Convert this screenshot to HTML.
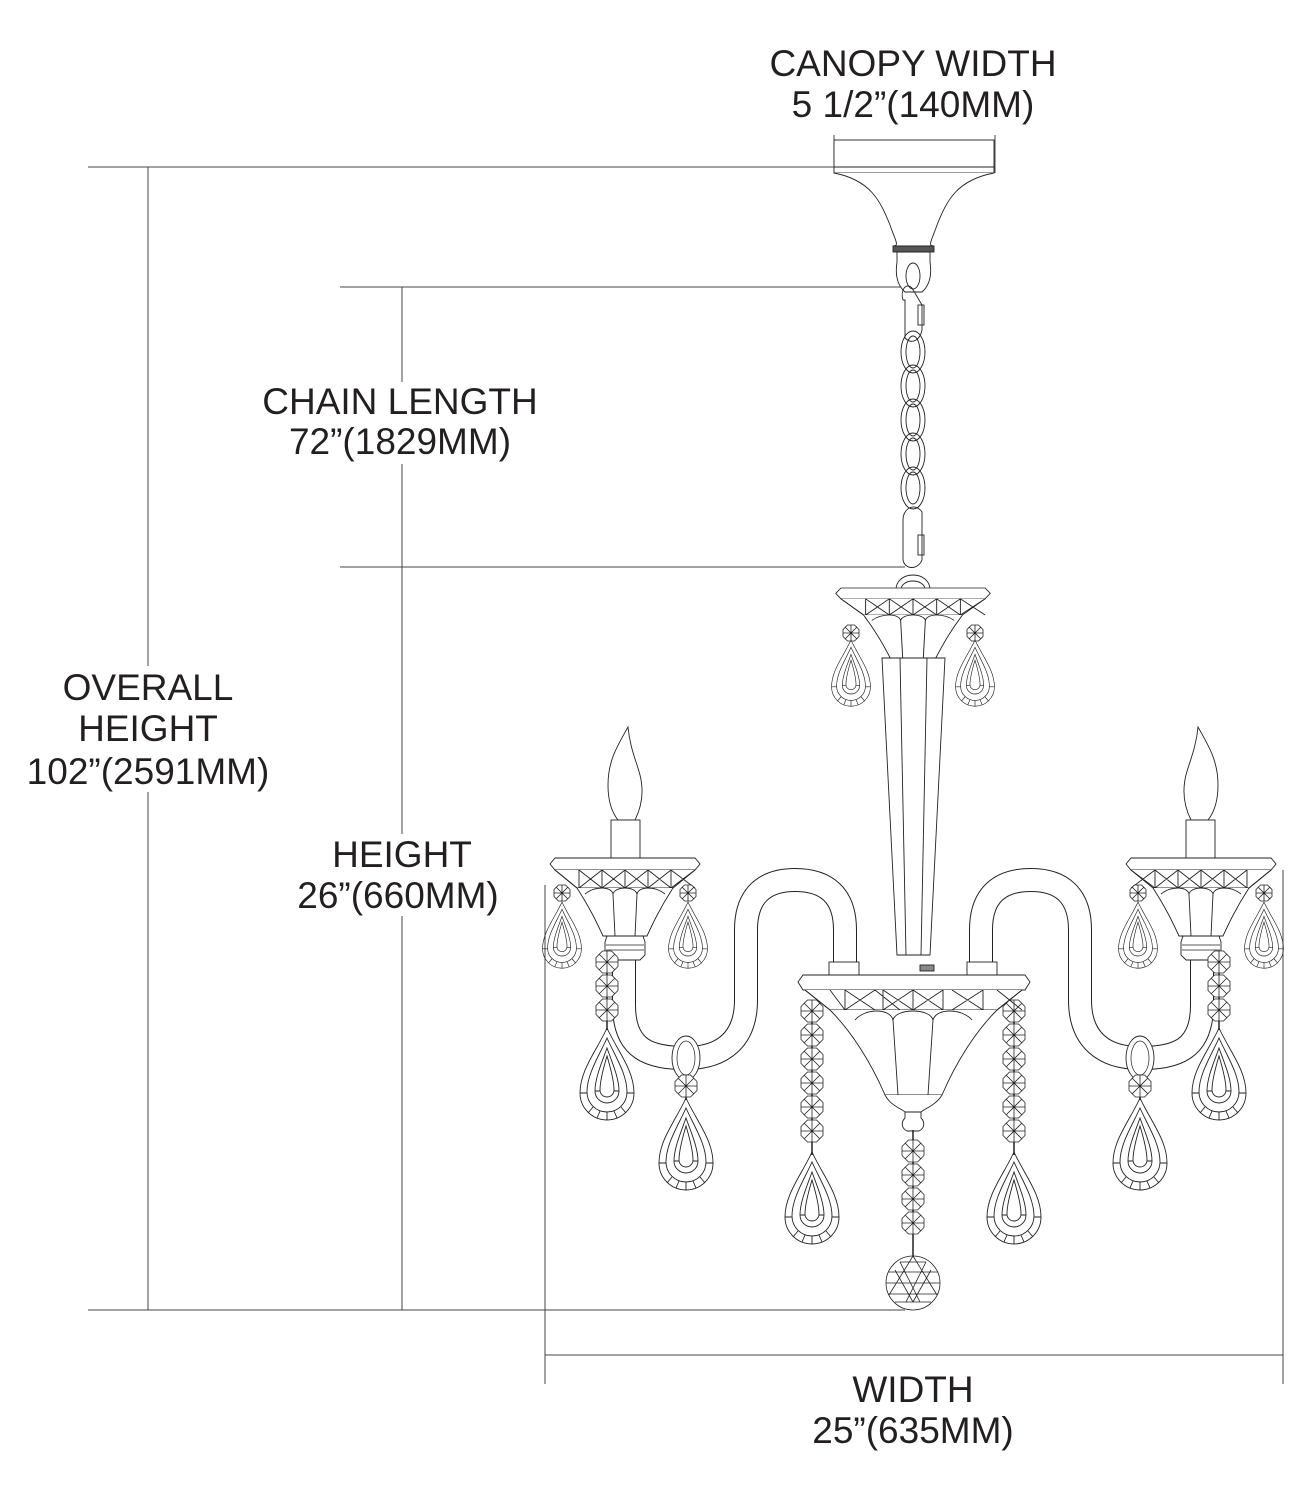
<!DOCTYPE html>
<html><head><meta charset="utf-8"><style>
html,body{margin:0;padding:0;background:#fff}
svg{display:block}
text{font-family:"Liberation Sans",Arial,sans-serif;font-size:37px;fill:#231f20;text-anchor:middle}
</style></head><body>
<svg width="1314" height="1500" viewBox="0 0 1314 1500" xmlns="http://www.w3.org/2000/svg">
<defs>
<g id="bead" fill="#fff" stroke="#222" stroke-width="0.8">
<polygon points="-4.5,-11 4.5,-11 11,-4.5 11,4.5 4.5,11 -4.5,11 -11,4.5 -11,-4.5"/>
<path d="M-11,0H11M0,-11V11M-8,-8L8,8M8,-8L-8,8"/>
</g>
<g id="sbead" fill="#fff" stroke="#222" stroke-width="0.8">
<polygon points="-3.5,-8 3.5,-8 8,-3.5 8,3.5 3.5,8 -3.5,8 -8,3.5 -8,-3.5"/>
<path d="M-8,0H8M0,-8V8M-6,-6L6,6M6,-6L-6,6"/>
</g>
<g id="drop" fill="none" stroke="#222" stroke-width="0.9">
<path d="M0,0C-10,22 -27,42 -27,65A27,27 0 0 0 27,65C27,42 10,22 0,0Z"/>
<path d="M0,10C-8,28 -20,46 -20,64A20,20 0 0 0 20,64C20,46 8,28 0,10Z"/>
<path d="M0,20C-5,34 -12,50 -12,63A12,12 0 0 0 12,63C12,50 5,34 0,20Z"/>
<path d="M0,28C-3,38 -7,52 -7,62A7,7 0 0 0 7,62C7,52 3,38 0,28Z"/>
<path d="M-27,65H-20M20,65H27M-19,85L-14,79M19,85L14,79M0,92V84M-10,90L-7,83M10,90L7,83M-12,63H-7M7,63H12"/>
</g>
<g id="sdrop" transform="scale(0.72)"><use href="#drop"/></g>
<g id="cup" fill="#fff" stroke="#222" stroke-width="0.9">
<path d="M-70,0H70L75,6L70,12H-70L-75,6Z"/>
<path d="M-70,12L-48,30H48L70,12"/>
<path d="M-70,12L-48,30M-46,12L-23,30M-23,12L0,30M0,12L23,30M23,12L46,30M46,12L70,30M-46,30L-23,12M-23,30L0,12M0,30L23,12M23,30L46,12M46,30L70,12M-46,12V30M-23,12V30M0,12V30M23,12V30M46,12V30" fill="none"/>
<path d="M-48,30C-35,50 -28,65 -22,78H22C28,65 35,50 48,30"/>
<path d="M-40,36C-30,28 -14,28 -12,36C-10,28 10,28 12,36C14,28 30,28 40,36M-12,36L-10,78M12,36L10,78" fill="none"/>
</g>
<g id="leftside">
<path d="M624,955V1005C624,1050 650,1058 686,1058C722,1058 746,1040 746,1000V930C746,895 765,880 795,880C826,880 845,895 845,930V966" fill="none" stroke="#222" stroke-width="24"/>
<path d="M624,955V1005C624,1050 650,1058 686,1058C722,1058 746,1040 746,1000V930C746,895 765,880 795,880C826,880 845,895 845,930V966" fill="none" stroke="#fff" stroke-width="22"/>
<rect x="829" y="962" width="30" height="14" fill="#fff" stroke="#222" stroke-width="0.9"/>
<ellipse cx="686" cy="1058" rx="14" ry="22" fill="#fff" stroke="#222" stroke-width="0.9"/>
<ellipse cx="686" cy="1058" rx="9" ry="17" fill="none" stroke="#222" stroke-width="0.7"/>
<path d="M628,727C618,745 608,760 608,785C608,805 614,815 618,820H635C640,810 645,795 640,775C636,760 630,748 628,727Z" fill="#fff" stroke="#222" stroke-width="0.9"/>
<rect x="611" y="820" width="29" height="39" fill="#fff" stroke="#222" stroke-width="0.9"/>
<use href="#cup" transform="translate(625,858)"/>
<path d="M607,936H643L645,942V955L640,960H610L605,955V942Z" fill="#fff" stroke="#222" stroke-width="0.9"/>
<path d="M606,945H644M606,950H644" stroke="#222" stroke-width="0.7"/>
<use href="#sbead" x="562" y="893"/><use href="#sdrop" transform="translate(562,902)"/>
<use href="#sbead" x="688" y="893"/><use href="#sdrop" transform="translate(688,902)"/>
<line x1="607" y1="955" x2="607" y2="1030" stroke="#222" stroke-width="1.5"/>
<use href="#bead" x="607" y="962"/><use href="#bead" x="607" y="986"/><use href="#bead" x="607" y="1010"/>
<use href="#drop" transform="translate(607,1028)"/>
<line x1="686" y1="1080" x2="686" y2="1100" stroke="#222" stroke-width="1.5"/>
<use href="#bead" x="686" y="1086"/>
<use href="#drop" transform="translate(686,1098)"/>
<line x1="812" y1="1000" x2="812" y2="1155" stroke="#222" stroke-width="1.5"/>
<use href="#bead" x="812" y="1011"/><use href="#bead" x="812" y="1035"/><use href="#bead" x="812" y="1059"/><use href="#bead" x="812" y="1083"/><use href="#bead" x="812" y="1107"/><use href="#bead" x="812" y="1131"/>
<use href="#drop" transform="translate(812,1152)"/>
<use href="#sbead" x="851" y="633"/><use href="#sdrop" transform="translate(851,640)"/>
</g>
</defs>

<g stroke="#444" stroke-width="1" fill="none">
<line x1="88" y1="167" x2="834" y2="167"/>
<line x1="148" y1="167" x2="148" y2="666"/>
<line x1="148" y1="792" x2="148" y2="1310"/>
<line x1="340" y1="287" x2="910" y2="287"/>
<line x1="340" y1="567" x2="905" y2="567"/>
<line x1="402" y1="287" x2="402" y2="382"/>
<line x1="402" y1="464" x2="402" y2="834"/>
<line x1="402" y1="916" x2="402" y2="1310"/>
<line x1="88" y1="1310" x2="905" y2="1310"/>
<line x1="834" y1="135" x2="834" y2="173"/>
<line x1="995" y1="135" x2="995" y2="173"/>
<line x1="545" y1="885" x2="545" y2="1384"/>
<line x1="1283" y1="870" x2="1283" y2="1384"/>
<line x1="545" y1="1355" x2="1283" y2="1355"/>
</g>

<g fill="#fff" stroke="#222" stroke-width="0.9">
<rect x="834" y="140" width="160" height="33"/>
<line x1="834" y1="167" x2="994" y2="167"/>
<path d="M834,173C870,180 880,200 890,225C895,240 900,246 893,246H934C927,246 932,240 937,225C947,200 957,180 994,173"/>
<rect x="893" y="246" width="41" height="6" fill="#555"/>
<path d="M897,252H930V262C932,275 930,285 922,292H905C897,285 895,275 897,262Z"/>
</g>
<g fill="none" stroke="#222" stroke-width="0.9">
<ellipse cx="913" cy="276" rx="7" ry="13"/>
<path d="M903,300C900,290 906,282 912,288L922,305V330C920,340 912,345 905,338V300Z"/>
<rect x="918" y="305" width="6" height="20"/>
<ellipse cx="913" cy="352" rx="12" ry="21"/><ellipse cx="913" cy="352" rx="7" ry="16"/>
<ellipse cx="913" cy="386" rx="12" ry="21"/><ellipse cx="913" cy="386" rx="7" ry="16"/>
<ellipse cx="913" cy="420" rx="12" ry="21"/><ellipse cx="913" cy="420" rx="7" ry="16"/>
<ellipse cx="913" cy="454" rx="12" ry="21"/><ellipse cx="913" cy="454" rx="7" ry="16"/>
<ellipse cx="913" cy="488" rx="12" ry="21"/><ellipse cx="913" cy="488" rx="7" ry="16"/>
<path d="M903,520C903,508 915,502 922,512V560C918,570 905,570 903,560Z"/>
<rect x="918" y="535" width="6" height="20"/>
<path d="M896,590C896,570 930,570 930,590M901,590C901,578 925,578 925,590"/>
</g>

<use href="#leftside"/>
<use href="#leftside" transform="translate(1826,0) scale(-1,1)"/>

<use href="#cup" transform="translate(913,588) scale(1.03,0.9)"/>
<g fill="#fff" stroke="#222" stroke-width="0.9">
<path d="M882,658H945L930,955H897Z"/>
<path d="M900,658L906,955M927,658L921,955" fill="none"/>
</g>
<g fill="#fff" stroke="#222" stroke-width="0.9">
<path d="M803,975H1025L1030,982L1025,990H803L798,982Z"/>
<path d="M805,990L830,1010H997L1022,990"/>
<path d="M805,990L830,1010M845,990L875,1010M883,990L913,1010M913,990L943,1010M952,990L983,1010M830,990L845,1010M875,990L845,1010M875,990L900,1010M913,990L883,1010M943,990L913,1010M983,990L952,1010M1022,990L997,1010M997,990L1022,1010M845,990V1010M883,990V1010M913,990V1010M943,990V1010M983,990V1010" fill="none"/>
<path d="M830,1010C850,1030 870,1060 885,1095H942C957,1060 977,1030 997,1010"/>
<path d="M855,1020C865,1008 890,1008 893,1020C896,1008 930,1008 933,1020C936,1008 962,1008 972,1020M893,1020L898,1095M933,1020L928,1095" fill="none"/>
<path d="M885,1095C890,1105 900,1108 905,1112H921C926,1108 936,1105 942,1095"/>
<path d="M905,1112H921V1118C925,1122 925,1128 919,1131H907C901,1128 901,1122 905,1118Z"/>
<rect x="920" y="965" width="14" height="6" fill="#888"/>
</g>
<line x1="913" y1="1130" x2="913" y2="1260" stroke="#222" stroke-width="1.5"/>
<use href="#bead" x="913" y="1151"/><use href="#bead" x="913" y="1175"/><use href="#bead" x="913" y="1199"/><use href="#bead" x="913" y="1223"/>
<g stroke="#222" stroke-width="0.8" fill="#fff">
<circle cx="913" cy="1283" r="27"/>
<path d="M888,1272H938M886,1283H940M888,1294H938M895,1302H931M900,1262H926M913,1256L889,1295M913,1256L937,1295M900,1262L920,1302M926,1262L906,1302M895,1270L913,1302M931,1270L913,1302" fill="none"/>
</g>

<text x="913" y="76">CANOPY WIDTH</text>
<text x="913" y="117">5 1/2”(140MM)</text>
<text x="400" y="414">CHAIN LENGTH</text>
<text x="400" y="454">72”(1829MM)</text>
<text x="148" y="700">OVERALL</text>
<text x="148" y="741">HEIGHT</text>
<text x="148" y="784">102”(2591MM)</text>
<text x="402" y="867">HEIGHT</text>
<text x="398" y="908">26”(660MM)</text>
<text x="913" y="1402">WIDTH</text>
<text x="913" y="1443">25”(635MM)</text>
</svg>
</body></html>
